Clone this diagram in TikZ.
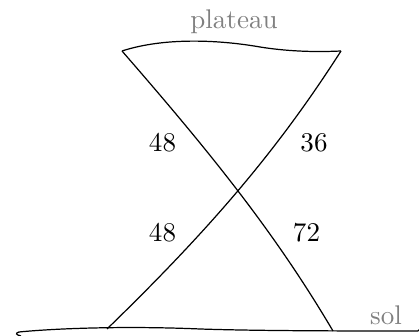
\documentclass[tikz,border=0pt]{standalone}
\usetikzlibrary{positioning}

\begin{document}
\begin{tikzpicture}[
    x=0.37pt, y=-0.37pt,
    trait/.style={draw=black, line width=0.45pt},
    valeur/.style={anchor=base, inner sep=0pt},
    terrain/.style={anchor=base, text=black!50, inner sep=0pt}
]
\useasboundingbox (0,0) rectangle (419,336);

\coordinate (hautg) at (122,51);
\coordinate (hautd) at (341,51);
\coordinate (basg) at (107,329);
\coordinate (basd) at (333,331);
\coordinate (solg) at (19,332);
\coordinate (sold) at (418,331);

% plateau et sol
\draw[trait] (hautg) .. controls (165,37) and (220,40) .. (260,47)
    .. controls (291,52) and (320,52) .. (hautd);
\draw[trait] (solg) .. controls (60,328) and (130,326) .. (200,329)
    .. controls (260,331) and (350,331) .. (sold);
\draw[trait] (solg) .. controls (15,333) and (16,335) .. (21,336);
\draw[trait] (sold) .. controls (419,330) and (419,329.5) .. (420,329);

% les deux echelles
\draw[trait] (hautg) .. controls (209,151) and (274,231) .. (basd);
\draw[trait] (hautd) .. controls (277,151) and (210,229) .. (basg);

\node[terrain] (plateau) at (234,29) {plateau};
\node[terrain] (sol) at (386,325) {sol};
\node[valeur] (hg) at (162.5,152) {48};
\node[valeur] (hd) at (314,152) {36};
\node[valeur] (bg) at (162.5,242) {48};
\node[valeur] (bd) at (306.5,242) {72};

\end{tikzpicture}
\end{document}
